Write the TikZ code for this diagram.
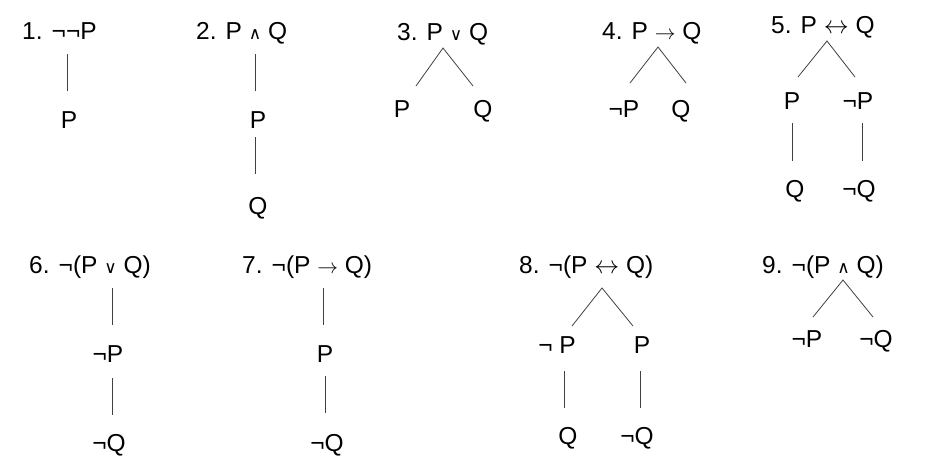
\documentclass[tikz,border=0pt]{standalone}
\usepackage{fontspec}
\setmainfont{Liberation Sans}
\newfontfamily\symfam{DejaVu Sans}
\newcommand{\andsym}{{\symfam\fontsize{17}{17}\selectfont ∧}}
\newcommand{\orsym}{{\symfam\fontsize{17}{17}\selectfont ∨}}
\newcommand{\impsym}{{\fontsize{22}{22}\selectfont$\rightarrow$}}
\newcommand{\iffsym}{{\fontsize{26}{26}\selectfont$\leftrightarrow$}}

\begin{document}
\begin{tikzpicture}[x=1pt,y=-1pt,
    every node/.style={inner sep=0pt,font=\fontsize{24.5}{29}\selectfont},
    root/.style={anchor=base west},
    leaf/.style={anchor=base},
    branch/.style={line width=0.8pt,black!75}]
  \useasboundingbox (0,0) rectangle (943,475);

  % 1. double negation
  \node[root] (R1) at (22,39) {1. ¬¬P};
  \node[leaf] (C1) at (69,128) {P};
  \coordinate (A1) at (67,54);
  \coordinate (B1) at (67,91);
  \draw[branch] (A1) -- (B1);

  % 2. conjunction
  \node[root] (R2) at (196,39) {2. P \andsym{} Q};
  \node[leaf] (C2a) at (258,128) {P};
  \node[leaf] (C2b) at (258,214) {Q};
  \coordinate (A2) at (255,54);
  \coordinate (B2) at (255,91);
  \coordinate (D2) at (255,137);
  \coordinate (E2) at (255,174);
  \draw[branch] (A2) -- (B2);
  \draw[branch] (D2) -- (E2);

  % 3. disjunction
  \node[root] (R3) at (397,40) {3. P \orsym{} Q};
  \node[leaf] (C3a) at (402,117) {P};
  \node[leaf] (C3b) at (483,117) {Q};
  \coordinate (T3) at (443,48);
  \coordinate (L3) at (416,86);
  \coordinate (M3) at (473,86);
  \draw[branch] (L3) -- (T3) -- (M3);

  % 4. conditional
  \node[root] (R4) at (602,39) {4. P \impsym{} Q};
  \node[leaf] (C4a) at (624,117) {¬P};
  \node[leaf] (C4b) at (681,117) {Q};
  \coordinate (T4) at (658,47);
  \coordinate (L4) at (630,83);
  \coordinate (M4) at (686,83);
  \draw[branch] (L4) -- (T4) -- (M4);

  % 5. biconditional
  \node[root] (R5) at (771,33) {5. P \iffsym{} Q};
  \node[leaf] (C5a) at (792,109) {P};
  \node[leaf] (C5b) at (858,109) {¬P};
  \node[leaf] (C5c) at (795,197) {Q};
  \node[leaf] (C5d) at (859,197) {¬Q};
  \coordinate (T5) at (827,41);
  \coordinate (L5) at (798,77);
  \coordinate (M5) at (855,77);
  \draw[branch] (L5) -- (T5) -- (M5);
  \coordinate (A5) at (792,123);
  \coordinate (B5) at (792,161);
  \coordinate (D5) at (862,123);
  \coordinate (E5) at (862,161);
  \draw[branch] (A5) -- (B5);
  \draw[branch] (D5) -- (E5);

  % 6. negated disjunction
  \node[root] (R6) at (29,273) {6. ¬(P \orsym{} Q)};
  \node[leaf] (C6a) at (108,362) {¬P};
  \node[leaf] (C6b) at (109,451) {¬Q};
  \coordinate (A6) at (112,288);
  \coordinate (B6) at (112,325);
  \coordinate (D6) at (112,378);
  \coordinate (E6) at (112,415);
  \draw[branch] (A6) -- (B6);
  \draw[branch] (D6) -- (E6);

  % 7. negated conditional
  \node[root] (R7) at (242,273) {7. ¬(P \impsym{} Q)};
  \node[leaf] (C7a) at (325,362) {P};
  \node[leaf] (C7b) at (327,451) {¬Q};
  \coordinate (A7) at (323,288);
  \coordinate (B7) at (323,325);
  \coordinate (D7) at (325,376);
  \coordinate (E7) at (325,413);
  \draw[branch] (A7) -- (B7);
  \draw[branch] (D7) -- (E7);

  % 8. negated biconditional
  \node[root] (R8) at (519,273) {8. ¬(P \iffsym{} Q)};
  \node[leaf] (C8a) at (557,353) {¬ P};
  \node[leaf] (C8b) at (642,353) {P};
  \node[leaf] (C8c) at (568,444) {Q};
  \node[leaf] (C8d) at (637,444) {¬Q};
  \coordinate (T8) at (602,288);
  \coordinate (L8) at (572,326);
  \coordinate (M8) at (633,326);
  \draw[branch] (L8) -- (T8) -- (M8);
  \coordinate (A8) at (564,371);
  \coordinate (B8) at (564,408);
  \coordinate (D8) at (640,371);
  \coordinate (E8) at (640,408);
  \draw[branch] (A8) -- (B8);
  \draw[branch] (D8) -- (E8);

  % 9. negated conjunction
  \node[root] (R9) at (762,273) {9. ¬(P \andsym{} Q)};
  \node[leaf] (C9a) at (807,347) {¬P};
  \node[leaf] (C9b) at (876,347) {¬Q};
  \coordinate (T9) at (843,280);
  \coordinate (L9) at (813,317);
  \coordinate (M9) at (873,317);
  \draw[branch] (L9) -- (T9) -- (M9);
\end{tikzpicture}
\end{document}
